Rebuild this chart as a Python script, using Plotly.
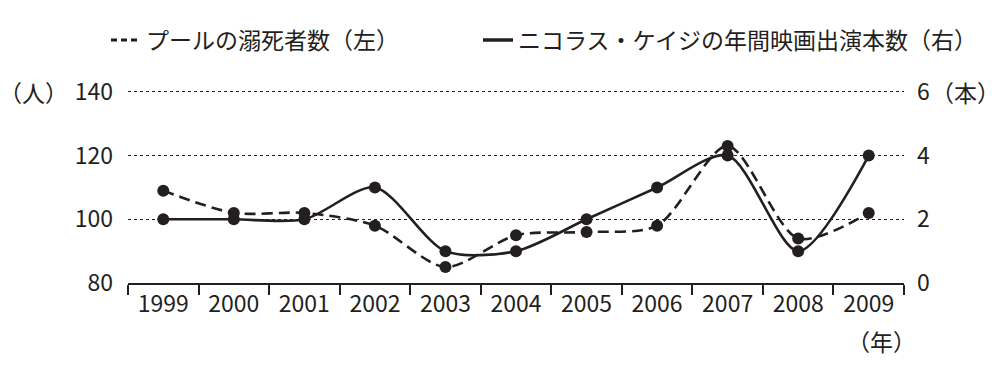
import plotly.graph_objects as go

years = ["1999", "2000", "2001", "2002", "2003", "2004", "2005", "2006", "2007", "2008", "2009"]
drownings = [109, 102, 102, 98, 85, 95, 96, 98, 123, 94, 102]
cage_films = [2, 2, 2, 3, 1, 1, 2, 3, 4, 1, 4]
name_drown = "プールの溺死者数（左）"
name_cage = "ニコラス・ケイジの年間映画出演本数（右）"

INK = "#231f20"
FONT = "Noto Sans CJK JP"
FS = 23

fig = go.Figure()
fig.add_trace(go.Scatter(
    x=years, y=drownings, mode="lines+markers", yaxis="y", showlegend=False,
    line=dict(color=INK, width=2.6, dash="11px,6px", shape="spline", smoothing=0.8),
    marker=dict(color=INK, size=12),
))
fig.add_trace(go.Scatter(
    x=years, y=cage_films, mode="lines+markers", yaxis="y2", showlegend=False,
    line=dict(color=INK, width=2.6, shape="spline", smoothing=0.8),
    marker=dict(color=INK, size=12),
))
# legend-only entries (line samples without markers)
fig.add_trace(go.Scatter(x=[None], y=[None], mode="lines", name=name_drown, legend="legend",
                         line=dict(color=INK, width=3, dash="6px,4px")))
fig.add_trace(go.Scatter(x=[None], y=[None], mode="lines", name=name_cage, legend="legend2",
                         line=dict(color=INK, width=3.4)))

leg_common = dict(orientation="h", xref="container", yref="container",
                  xanchor="left", yanchor="middle", y=1 - 40 / 368,
                  font=dict(size=FS, family=FONT, color=INK),
                  bgcolor="rgba(0,0,0,0)")

fig.update_layout(
    width=1000, height=368,
    margin=dict(l=128, r=96, t=90, b=85, autoexpand=False),
    paper_bgcolor="white", plot_bgcolor="white",
    font=dict(family=FONT, color=INK, size=FS),
    showlegend=True,
    legend=dict(x=0.106, **leg_common),
    legend2=dict(x=0.478, **leg_common),
    xaxis=dict(type="category", tickson="boundaries", ticks="outside", ticklen=10,
               tickcolor=INK, tickwidth=1.5, showline=True, linecolor=INK, linewidth=1.5,
               showgrid=False, zeroline=False, range=[-0.5, 10.5],
               tickfont=dict(size=FS, family=FONT, color=INK)),
    yaxis=dict(range=[80, 140.6], tickvals=[80, 100, 120, 140], showgrid=True,
               gridcolor=INK, griddash="dot",
               gridwidth=1.2, zeroline=False, showline=False, ticks="",
               ticklabelstandoff=14, tickfont=dict(size=FS, family=FONT, color=INK)),
    yaxis2=dict(range=[0, 6.06], tickvals=[0, 2, 4, 6], overlaying="y", side="right",
                showgrid=False, zeroline=False, showline=False, ticks="",
                ticklabelstandoff=12, tickfont=dict(size=FS, family=FONT, color=INK)),
)

fig.add_annotation(text="（人）", xref="paper", yref="paper", x=-0.075, y=0.99,
                   xanchor="right", yanchor="middle", showarrow=False,
                   font=dict(size=FS, family=FONT, color=INK))
fig.add_annotation(text="（本）", xref="paper", yref="paper", x=1.032, y=0.99,
                   xanchor="left", yanchor="middle", showarrow=False,
                   font=dict(size=FS, family=FONT, color=INK))
fig.add_annotation(text="（年）", xref="paper", yref="paper", x=1.018, y=-0.30,
                   xanchor="right", yanchor="middle", showarrow=False,
                   font=dict(size=FS, family=FONT, color=INK))

fig.write_html("out.html", config={"displayModeBar": False},
               post_script="document.body.style.margin='0px';")
